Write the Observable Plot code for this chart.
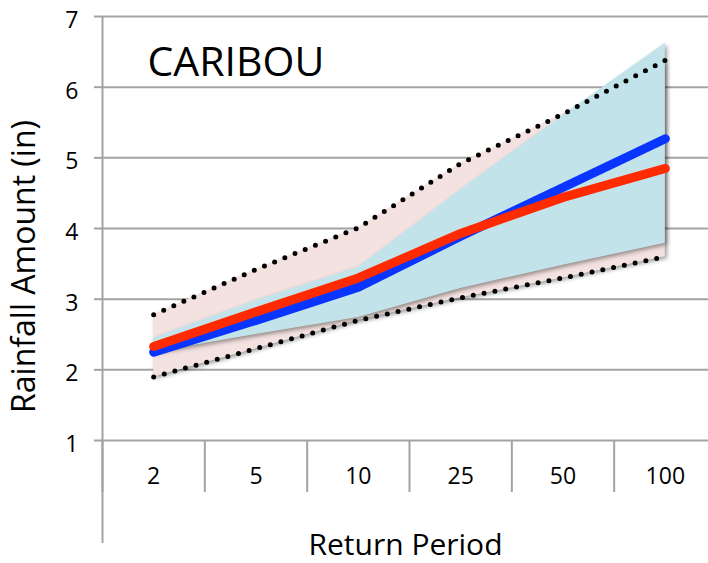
<!DOCTYPE html>
<html>
<head>
<meta charset="utf-8">
<script src="https://cdn.jsdelivr.net/npm/d3@7"></script>
<script src="https://cdn.jsdelivr.net/npm/@observablehq/plot@0.6"></script>
<style>
  html, body { margin: 0; padding: 0; background: white; overflow: hidden; }
</style>
</head>
<body>
<div id="chart"></div>
<script>
// Return periods (years) along the category axis
const periods = ["2", "5", "10", "25", "50", "100"];

// Rainfall amounts (inches) for each return period
const blueLine = [2.25, 2.70, 3.17, 3.89, 4.58, 5.27];
const redLine = [2.33, 2.82, 3.30, 3.93, 4.44, 4.85];

// Shaded ranges: pink envelope bounded by the dotted lines, blue inner band
const envelopeLow = [1.90, 2.30, 2.70, 3.02, 3.30, 3.60];
const envelopeHigh = [2.78, 3.42, 4.01, 4.92, 5.62, 6.38];
const bandLow = [2.25, 2.50, 2.74, 3.15, 3.48, 3.79];
const bandHigh = [2.45, 2.98, 3.45, 4.55, 5.60, 6.62];

const yTicks = [1, 2, 3, 4, 5, 6, 7];
const title = "CARIBOU";
const yLabel = "Rainfall Amount (in)";
const xLabel = "Return Period";

// Each category sits in the middle of its slot on a 0..n axis
const rows = periods.map((p, i) => ({
  pos: i + 0.5,
  period: p,
  blue: blueLine[i],
  red: redLine[i],
  envLo: envelopeLow[i],
  envHi: envelopeHigh[i],
  bandLo: bandLow[i],
  bandHi: bandHigh[i]
}));
const slotEdges = d3.range(periods.length + 1);
const slotCenters = rows.map(d => d.pos);

const gray = "#a3a3a3";

const chart = Plot.plot({
  width: 708,
  height: 563,
  marginTop: 16,
  marginLeft: 102,
  marginRight: 0,
  marginBottom: 123,
  style: {fontFamily: "'Open Sans', sans-serif", fontSize: "23px", color: "black", background: "white"},
  x: {domain: [0, periods.length], range: [102, 716], label: null},
  y: {domain: [1, 7], range: [440, 16], label: null},
  marks: [
    Plot.gridY(yTicks, {stroke: gray, strokeOpacity: 1, strokeWidth: 2}),
    Plot.areaY(rows, {x: "pos", y1: "envLo", y2: "envHi", fill: "#f4e2e0"}),
    Plot.areaY(rows, {x: "pos", y1: "bandLo", y2: "bandHi", fill: "#c3e3eb"}),
    Plot.line(rows, {x: "pos", y: "envHi", stroke: "black", strokeWidth: 5, strokeDasharray: "0 11", strokeLinecap: "round"}),
    Plot.line(rows, {x: "pos", y: "envLo", stroke: "black", strokeWidth: 5, strokeDasharray: "0 11", strokeLinecap: "round"}),
    Plot.line(rows, {x: "pos", y: "blue", stroke: "#0a34ff", strokeWidth: 9, strokeLinecap: "round", strokeLinejoin: "round"}),
    Plot.line(rows, {x: "pos", y: "red", stroke: "#ff2a00", strokeWidth: 9, strokeLinecap: "round", strokeLinejoin: "round"}),
    // value axis: line, ticks and labels
    Plot.ruleX([0], {stroke: gray, strokeWidth: 2}),
    Plot.axisY(yTicks, {tickSize: 8, tickFormat: () => "", stroke: gray, strokeWidth: 2, label: null}),
    Plot.axisY(yTicks, {tickSize: 0, tickPadding: 24, dy: 4, tickFormat: d => String(d), fontSize: 23, label: null}),
    // category axis: slot separators, long left edge, centred labels
    Plot.axisX(slotEdges, {tickSize: 52, tickFormat: () => "", stroke: gray, strokeWidth: 2, label: null}),
    Plot.axisX([0], {tickSize: 103, tickFormat: () => "", stroke: gray, strokeWidth: 2, label: null}),
    Plot.axisX(slotCenters, {tickSize: 0, tickPadding: 27, tickFormat: d => periods[Math.floor(d)], fontSize: 23, label: null}),
    // titles
    Plot.text([title], {frameAnchor: "top-left", textAnchor: "start", lineAnchor: "bottom", dx: 45, dy: 59, fontSize: 41, fill: "black"}),
    Plot.text([yLabel], {frameAnchor: "left", rotate: -90, textAnchor: "middle", lineAnchor: "bottom", dx: -68, dy: 38, fontSize: 32, fill: "black"}),
    Plot.text([xLabel], {frameAnchor: "bottom", textAnchor: "middle", lineAnchor: "bottom", dy: 114, fontSize: 30, fill: "black"})
  ]
});

// soft drop shadow under the shaded ranges
chart.querySelectorAll('g[aria-label="area"]').forEach(g => {
  g.style.filter = "drop-shadow(2px 2px 2px rgba(0,0,0,0.4))";
});

document.getElementById("chart").append(chart);
</script>
</body>
</html>
